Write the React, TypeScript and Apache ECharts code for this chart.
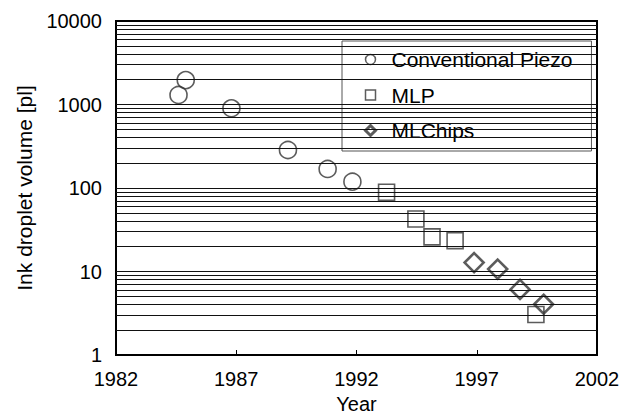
import React, { useEffect, useRef } from "react";
import * as echarts from "echarts";

const conventionalPiezo: [number, number][] = [
  [1984.6, 1300],
  [1984.9, 1960],
  [1986.8, 900],
  [1989.15, 285],
  [1990.8, 169],
  [1991.83, 119],
];
const mlp: [number, number][] = [
  [1993.25, 89],
  [1994.47, 42.5],
  [1995.14, 26],
  [1996.1, 23.4],
  [1999.46, 3.05],
];
const mlChips: [number, number][] = [
  [1996.89, 12.8],
  [1997.87, 10.7],
  [1998.8, 6.1],
  [1999.78, 4.05],
];
const xTicks = [1982, 1987, 1992, 1997, 2002];
const gridValues = [
  2, 3, 4, 5, 6, 7, 8, 9, 10,
  20, 30, 40, 50, 60, 70, 80, 90, 100,
  200, 300, 400, 500, 600, 700, 800, 900, 1000,
  2000, 3000, 4000, 5000, 6000, 7000, 8000, 9000,
];

const FONT = "'Liberation Sans', Arial, Helvetica, sans-serif";

export default function App() {
  const ref = useRef<HTMLDivElement>(null);
  useEffect(() => {
    if (!ref.current) return;
    const chart = echarts.init(ref.current, undefined, { renderer: "svg" });
    const markerColor = "#333";
    chart.setOption({
      animation: false,
      backgroundColor: "#fff",
      textStyle: { fontFamily: FONT, color: "#000" },
      grid: {
        left: 116,
        right: 32,
        top: 21,
        bottom: 60,
        show: true,
        borderColor: "#000",
        borderWidth: 2,
        backgroundColor: "transparent",
        containLabel: false,
        outerBoundsMode: "none",
      },
      legend: {
        orient: "vertical",
        left: 342,
        top: 41,
        padding: [8, 19, 10, 22],
        itemGap: 14.5,
        itemWidth: 10,
        itemHeight: 10,
        backgroundColor: "#fff",
        borderColor: "#555",
        borderWidth: 1,
        textStyle: { fontFamily: FONT, fontSize: 21, color: "#000", padding: [0, 0, 0, 11] },
        data: [
          { name: "Conventional Piezo", icon: "circle", itemStyle: { borderWidth: 1.5 } },
          { name: "MLP", icon: "rect", itemStyle: { borderWidth: 1.5 } },
          { name: "MLChips", icon: "diamond", itemStyle: { borderWidth: 3 } },
        ],
      },
      xAxis: {
        type: "value",
        min: 1982,
        max: 2002,
        splitLine: { show: false },
        axisLine: { lineStyle: { color: "#000", width: 2 } },
        axisTick: { inside: true, length: 5, customValues: xTicks, lineStyle: { color: "#000" } },
        axisLabel: {
          customValues: xTicks,
          fontSize: 20,
          fontFamily: FONT,
          color: "#000",
          margin: 14,
          formatter: (v: number) => String(v),
        },
        name: "Year",
        nameLocation: "middle",
        nameGap: 39,
        nameTextStyle: { fontSize: 20, lineHeight: 20, fontFamily: FONT, color: "#000" },
      },
      yAxis: {
        type: "log",
        logBase: 10,
        min: 1,
        max: 10000,
        splitLine: { show: false },
        axisLine: { show: true, lineStyle: { color: "#000", width: 2 } },
        axisTick: { show: true, inside: true, length: 5, lineStyle: { color: "#000" } },
        axisLabel: {
          fontSize: 20,
          fontFamily: FONT,
          color: "#000",
          margin: 14,
          formatter: (v: number) => String(Math.round(v)),
        },
        name: "Ink droplet volume [pl]",
        nameLocation: "middle",
        nameGap: 79,
        nameTextStyle: { fontSize: 21, fontFamily: FONT, color: "#000" },
      },
      series: [
        {
          name: "grid",
          type: "line",
          data: [],
          z: 1,
          silent: true,
          markLine: {
            silent: true,
            symbol: "none",
            label: { show: false },
            lineStyle: { type: "solid", color: "#111", width: 1 },
            data: gridValues.map((v) => ({ yAxis: v })),
          },
        },
        {
          name: "Conventional Piezo",
          type: "scatter",
          z: 3,
          symbol: "circle",
          symbolSize: 17,
          itemStyle: { color: "rgba(0,0,0,0)", borderColor: markerColor, borderWidth: 1.6 },
          data: conventionalPiezo,
        },
        {
          name: "MLP",
          type: "scatter",
          z: 3,
          symbol: "rect",
          symbolSize: 16,
          itemStyle: { color: "rgba(0,0,0,0)", borderColor: markerColor, borderWidth: 1.6 },
          data: mlp,
        },
        {
          name: "MLChips",
          type: "scatter",
          z: 3,
          symbol: "diamond",
          symbolSize: 19,
          itemStyle: { color: "rgba(0,0,0,0)", borderColor: markerColor, borderWidth: 2.6 },
          data: mlChips,
        },
      ],
    });
    return () => chart.dispose();
  }, []);
  return <div ref={ref} style={{ width: 629, height: 415, position: "fixed", left: 0, top: 0 }} />;
}
